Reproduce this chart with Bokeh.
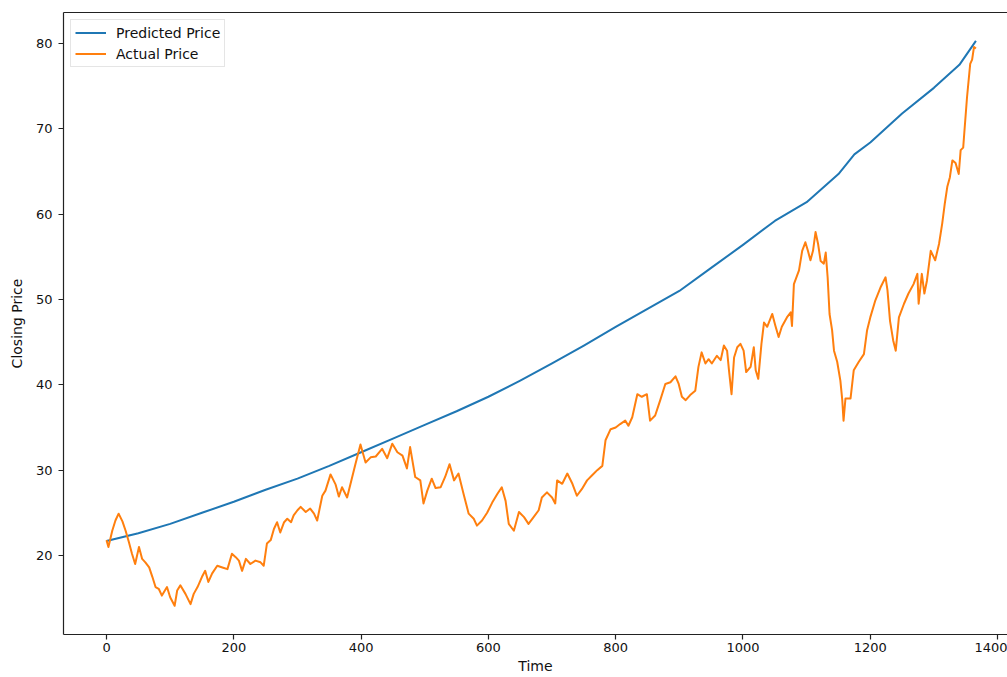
from bokeh.plotting import figure
from bokeh.models import Range1d, FixedTicker, LinearAxis, Legend, LegendItem
from bokeh.embed import file_html
from bokeh.resources import INLINE

# ---- data ----
time_pred = [0, 50, 100, 150, 200, 250, 300, 350, 400, 450, 500, 550, 600, 650,
             700, 750, 800, 850, 900, 950, 1000, 1050, 1100, 1150, 1175, 1200,
             1250, 1300, 1340, 1366]
price_pred = [21.7, 22.6, 23.7, 25.0, 26.3, 27.7, 29.0, 30.5, 32.1, 33.7, 35.3,
              36.9, 38.6, 40.5, 42.5, 44.6, 46.8, 48.9, 51.0, 53.7, 56.4, 59.2,
              61.4, 64.7, 67.0, 68.4, 71.8, 74.8, 77.5, 80.3]

time_actual = [0, 3, 9, 14, 19, 25, 30, 35, 40, 45, 51, 56, 61, 67, 72, 77, 82, 87,
               95, 100, 107, 111, 116, 124, 132, 137, 143, 150, 155, 160, 166, 174,
               182, 190, 197, 203, 208, 213, 219, 226, 234, 242, 247, 252, 258, 263,
               268, 273, 279, 284, 290, 294, 300, 305, 313, 320, 326, 331, 339, 344,
               352, 360, 365, 370, 378, 383, 391, 399, 407, 415, 423, 433, 441, 449,
               457, 465, 472, 477, 485, 493, 498, 504, 511, 517, 525, 532, 539, 546,
               553, 561, 569, 577, 582, 590, 598, 606, 614, 621, 627, 632, 640, 648,
               656, 663, 671, 679, 684, 692, 700, 705, 708, 716, 724, 732, 739, 747,
               755, 763, 771, 779, 784, 792, 800, 807, 815, 820, 826, 834, 841, 849,
               854, 862, 870, 878, 886, 894, 899, 904, 910, 917, 925, 930, 935, 941,
               946, 951, 959, 965, 970, 975, 978, 982, 986, 991, 996, 1001, 1005,
               1012, 1017, 1020, 1024, 1029, 1033, 1038, 1046, 1051, 1056, 1061,
               1069, 1075, 1077, 1080, 1088, 1093, 1098, 1102, 1106, 1110, 1114,
               1118, 1122, 1127, 1130, 1133, 1136, 1140, 1143, 1148, 1153, 1156,
               1158, 1161, 1169, 1174, 1182, 1190, 1195, 1200, 1208, 1216, 1224,
               1227, 1231, 1236, 1240, 1245, 1253, 1260, 1268, 1274, 1276, 1281,
               1285, 1289, 1295, 1302, 1308, 1313, 1317, 1321, 1325, 1329, 1334,
               1339, 1342, 1346, 1348, 1352, 1357, 1360, 1363, 1366]
price_actual = [21.8, 21.0, 22.9, 24.1, 24.9, 24.0, 22.9, 21.6, 20.2, 19.0, 21.0,
                19.6, 19.2, 18.6, 17.5, 16.3, 16.1, 15.3, 16.3, 15.1, 14.1, 15.9,
                16.5, 15.5, 14.3, 15.5, 16.3, 17.5, 18.2, 16.9, 17.9, 18.8, 18.6,
                18.4, 20.2, 19.8, 19.4, 18.2, 19.6, 19.0, 19.4, 19.2, 18.8, 21.4,
                21.8, 23.1, 23.9, 22.7, 23.9, 24.3, 23.9, 24.7, 25.3, 25.7, 25.1,
                25.5, 24.9, 24.1, 27.0, 27.6, 29.5, 28.3, 26.9, 28.0, 26.8, 28.3,
                30.7, 33.0, 30.9, 31.5, 31.6, 32.5, 31.4, 33.1, 32.1, 31.7, 30.2,
                32.7, 29.2, 28.8, 26.1, 27.6, 29.0, 27.9, 28.0, 29.2, 30.7, 28.8,
                29.6, 27.2, 24.9, 24.3, 23.5, 24.1, 25.0, 26.2, 27.2, 28.0, 26.4,
                23.7, 22.9, 25.1, 24.5, 23.7, 24.5, 25.3, 26.8, 27.4, 26.8, 26.1,
                28.8, 28.4, 29.6, 28.4, 27.0, 27.8, 28.8, 29.4, 30.0, 30.5, 33.5,
                34.8, 35.0, 35.4, 35.8, 35.2, 36.2, 38.9, 38.6, 38.9, 35.8, 36.4,
                38.2, 40.1, 40.3, 41.0, 40.1, 38.6, 38.2, 38.8, 39.3, 42.1, 43.8,
                42.5, 43.0, 42.5, 43.4, 42.9, 44.6, 44.0, 41.7, 38.9, 43.2, 44.4,
                44.8, 44.0, 41.5, 42.1, 44.4, 41.7, 40.7, 44.8, 47.3, 46.8, 48.3,
                46.9, 45.6, 46.8, 47.9, 48.5, 46.9, 51.8, 53.4, 55.7, 56.7, 55.7,
                54.6, 55.7, 57.9, 56.5, 54.5, 54.2, 55.5, 52.6, 48.3, 46.4, 44.0,
                42.7, 40.5, 38.2, 35.8, 38.4, 38.4, 41.7, 42.7, 43.6, 46.4, 47.9,
                49.9, 51.4, 52.6, 51.1, 47.5, 45.2, 44.0, 47.9, 49.5, 50.7, 51.8,
                53.0, 49.5, 53.0, 50.7, 52.2, 55.7, 54.6, 56.5, 58.9, 61.2, 63.2,
                64.3, 66.3, 66.0, 64.7, 67.5, 67.8, 69.8, 73.7, 77.6, 78.1, 79.6,
                79.4]

x_ticks = [0, 200, 400, 600, 800, 1000, 1200, 1400]
y_ticks = [20, 30, 40, 50, 60, 70, 80]
series_labels = ["Predicted Price", "Actual Price"]
x_title = "Time"
y_title = "Closing Price"

FONT = "DejaVu Sans"
BLUE = "#1f77b4"
ORANGE = "#ff7f0e"
AX = "#222222"

p = figure(width=1007, height=677, output_backend="svg", toolbar_location=None,
           x_range=Range1d(-67.6, 1415.6), y_range=Range1d(10.74, 83.63),
           min_border_left=63, min_border_right=0, min_border_top=12,
           min_border_bottom=43)
p.outline_line_color = None
p.grid.visible = False
p.background_fill_color = "white"
p.border_fill_color = "white"

for ax in (p.xaxis[0], p.yaxis[0]):
    ax.axis_line_color = AX
    ax.axis_line_width = 1.2
    ax.major_tick_line_color = AX
    ax.major_tick_line_width = 1.2
    ax.major_tick_in = 0
    ax.major_tick_out = 5
    ax.minor_tick_line_color = None
    ax.major_label_text_font = FONT
    ax.major_label_text_font_size = "13px"
    ax.major_label_text_color = "#111111"
    ax.axis_label_text_font = FONT
    ax.axis_label_text_font_size = "14px"
    ax.axis_label_text_font_style = "normal"
    ax.axis_label_text_color = "#111111"

p.xaxis.ticker = FixedTicker(ticks=x_ticks)
p.yaxis.ticker = FixedTicker(ticks=y_ticks)
p.xaxis.axis_label = x_title
p.yaxis.axis_label = y_title
p.xaxis.major_label_standoff = 3
p.xaxis.axis_label_standoff = 3
p.yaxis.major_label_standoff = 6
p.yaxis.axis_label_standoff = 8

top = LinearAxis(major_tick_line_color=None, minor_tick_line_color=None,
                 major_label_text_font_size="0px", axis_line_color=AX,
                 axis_line_width=1.2, major_label_standoff=0,
                 ticker=FixedTicker(ticks=[]))
p.add_layout(top, "above")

r1 = p.line(time_pred, price_pred, line_color=BLUE, line_width=2, line_join="round")
r2 = p.line(time_actual, price_actual, line_color=ORANGE, line_width=2, line_join="round")

legend = Legend(items=[LegendItem(label=series_labels[0], renderers=[r1]),
                       LegendItem(label=series_labels[1], renderers=[r2])],
                location="top_left", margin=7, padding=4, spacing=4,
                glyph_width=31, glyph_height=17, label_height=17,
                label_standoff=10, label_text_font=FONT,
                label_text_font_size="14px", label_text_color="#111111",
                border_line_color="#cccccc", border_line_width=1,
                background_fill_color="white", background_fill_alpha=0.8)
p.add_layout(legend)

open("out.html", "w").write(file_html(p, INLINE))
